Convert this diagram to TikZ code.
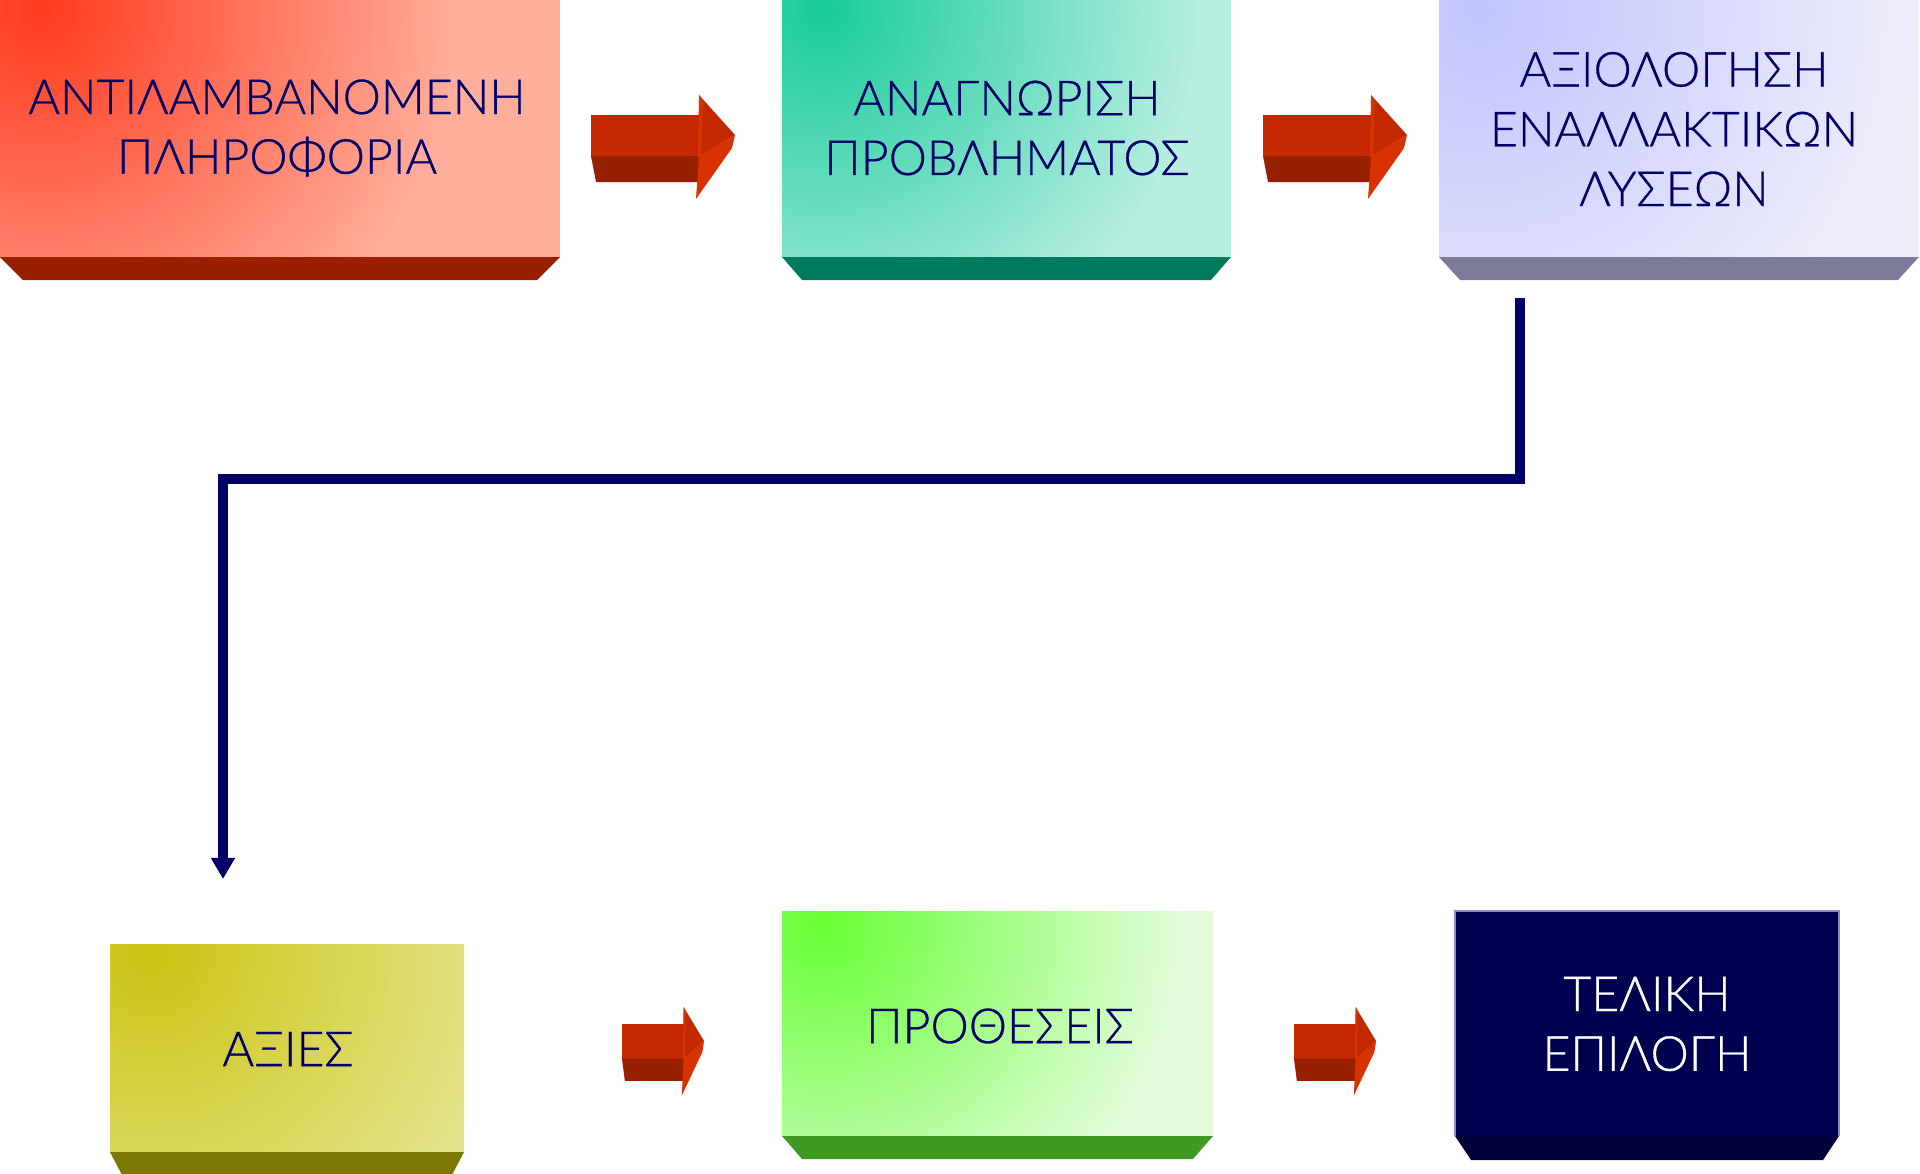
\documentclass[tikz,border=0pt]{standalone}
\usepackage{fontspec}
\IfFontExistsTF{Lato Light}{\setmainfont{Lato Light}[UprightFeatures={FakeBold=0.6}]}{\setmainfont{Lato}}
\usetikzlibrary{arrows.meta}

\definecolor{navytext}{HTML}{000066}
\definecolor{arrowtop}{HTML}{C42800}
\definecolor{arrowdark}{HTML}{962000}
\definecolor{arrowhead}{HTML}{D83200}
\definecolor{infoglow}{HTML}{FF3A1E}
\definecolor{infofill}{HTML}{FFAE9C}
\definecolor{infoslab}{HTML}{9A1E00}
\definecolor{problemglow}{HTML}{18CC99}
\definecolor{problemfill}{HTML}{B8EEE2}
\definecolor{problemslab}{HTML}{007A5C}
\definecolor{evalglow}{HTML}{C2C4FF}
\definecolor{evalfill}{HTML}{EEEEFB}
\definecolor{evalslab}{HTML}{7C7C9A}
\definecolor{valuesglow}{HTML}{CCC414}
\definecolor{valuesfill}{HTML}{E5E48C}
\definecolor{valuesslab}{HTML}{7A7800}
\definecolor{intentglow}{HTML}{66FF33}
\definecolor{intentfill}{HTML}{E2FCDA}
\definecolor{intentslab}{HTML}{3E9A22}
\definecolor{choicefill}{HTML}{000050}
\definecolor{choiceslab}{HTML}{00003A}
\definecolor{choiceedge}{HTML}{8C8CB8}

\tikzset{
  boxtext/.style={text=navytext, align=center, font=\fontsize{27.5}{34}\selectfont},
  link/.style={draw=navytext, line width=5.4pt, -{Triangle[width=13pt,length=12pt]}},
}

% box with a glow in the top left corner and a dark slab below
\newcommand{\slabbox}[9]{%
  \begin{scope}
    \clip (#1,#2) rectangle (#3,#4);
    \fill[#6] (#1,#2) rectangle (#3,#4);
    \shade[inner color=#5, outer color=#6] (#1+40,#2+10) circle (#8);
  \end{scope}
  \fill[#7] (#1,#4) -- (#3,#4) -- (#3-#9,#4+23) -- (#1+#9,#4+23) -- cycle;}

% red block arrow, origin at the top left of the shaft
\newcommand{\redarrow}[4]{%
  \begin{scope}[shift={(#1,#2)}, xscale=#3, yscale=#4]
    \fill[arrowtop] (0,0) rectangle (108.5,41.5);
    \fill[arrowdark] (0,41) -- (108.5,41) -- (108.5,67) -- (5,67) -- cycle;
    \fill[arrowtop] (108,-20) -- (144,20) -- (108,41.5) -- cycle;
    \fill[arrowhead] (108,41) -- (144,20) -- (141,33) -- (105,84) -- cycle;
    \fill[arrowhead] (108,-20) -- (112,-15) -- (110,42) -- (107,42) -- cycle;
  \end{scope}}

\begin{document}
\begin{tikzpicture}[x=0.02cm, y=-0.02cm]
\useasboundingbox (0,0) rectangle (1920,1173);

% top row
\slabbox{0}{0}{560}{257}{infoglow}{infofill}{infoslab}{420}{23}
\slabbox{782}{0}{1231}{257}{problemglow}{problemfill}{problemslab}{380}{20}
\slabbox{1439}{0}{1919}{257}{evalglow}{evalfill}{evalslab}{440}{21}

\node[boxtext] (info) at (277,128) {ΑΝΤΙΛΑΜΒΑΝΟΜΕΝΗ\\ΠΛΗΡΟΦΟΡΙΑ};
\node[boxtext] (problem) at (1007,128) {ΑΝΑΓΝΩΡΙΣΗ\\ΠΡΟΒΛΗΜΑΤΟΣ};
\node[boxtext] (evaluation) at (1674,129) {ΑΞΙΟΛΟΓΗΣΗ\\ΕΝΑΛΛΑΚΤΙΚΩΝ\\ΛΥΣΕΩΝ};

\redarrow{591}{115}{1}{1}
\redarrow{1263}{115}{1}{1}

% bottom row
\slabbox{110}{944}{464}{1152}{valuesglow}{valuesfill}{valuesslab}{360}{12}
\slabbox{782}{911}{1213}{1136}{intentglow}{intentfill}{intentslab}{360}{20}
\fill[choicefill] (1455,911) rectangle (1839,1136);
\draw[choiceedge, line width=0.6pt] (1455,1136) -- (1455,911) -- (1839,911) -- (1839,1136);
\fill[choiceslab] (1455,1136) -- (1839,1136) -- (1823,1160) -- (1471,1160) -- cycle;

\node[boxtext] (values) at (288,1049) {ΑΞΙΕΣ};
\node[boxtext] (intentions) at (1000,1026) {ΠΡΟΘΕΣΕΙΣ};
\node[boxtext, text=white] (choice) at (1647,1024) {ΤΕΛΙΚΗ\\ΕΠΙΛΟΓΗ};

\redarrow{622}{1024}{0.57}{0.85}
\redarrow{1294}{1024}{0.57}{0.85}

% connector from the evaluation down to the values
\coordinate (evalout) at (1520,298);
\coordinate (bend) at (223,479);
\coordinate (valuesin) at (223,879);
\draw[link] (evalout) |- (bend) -- (valuesin);
\end{tikzpicture}
\end{document}
